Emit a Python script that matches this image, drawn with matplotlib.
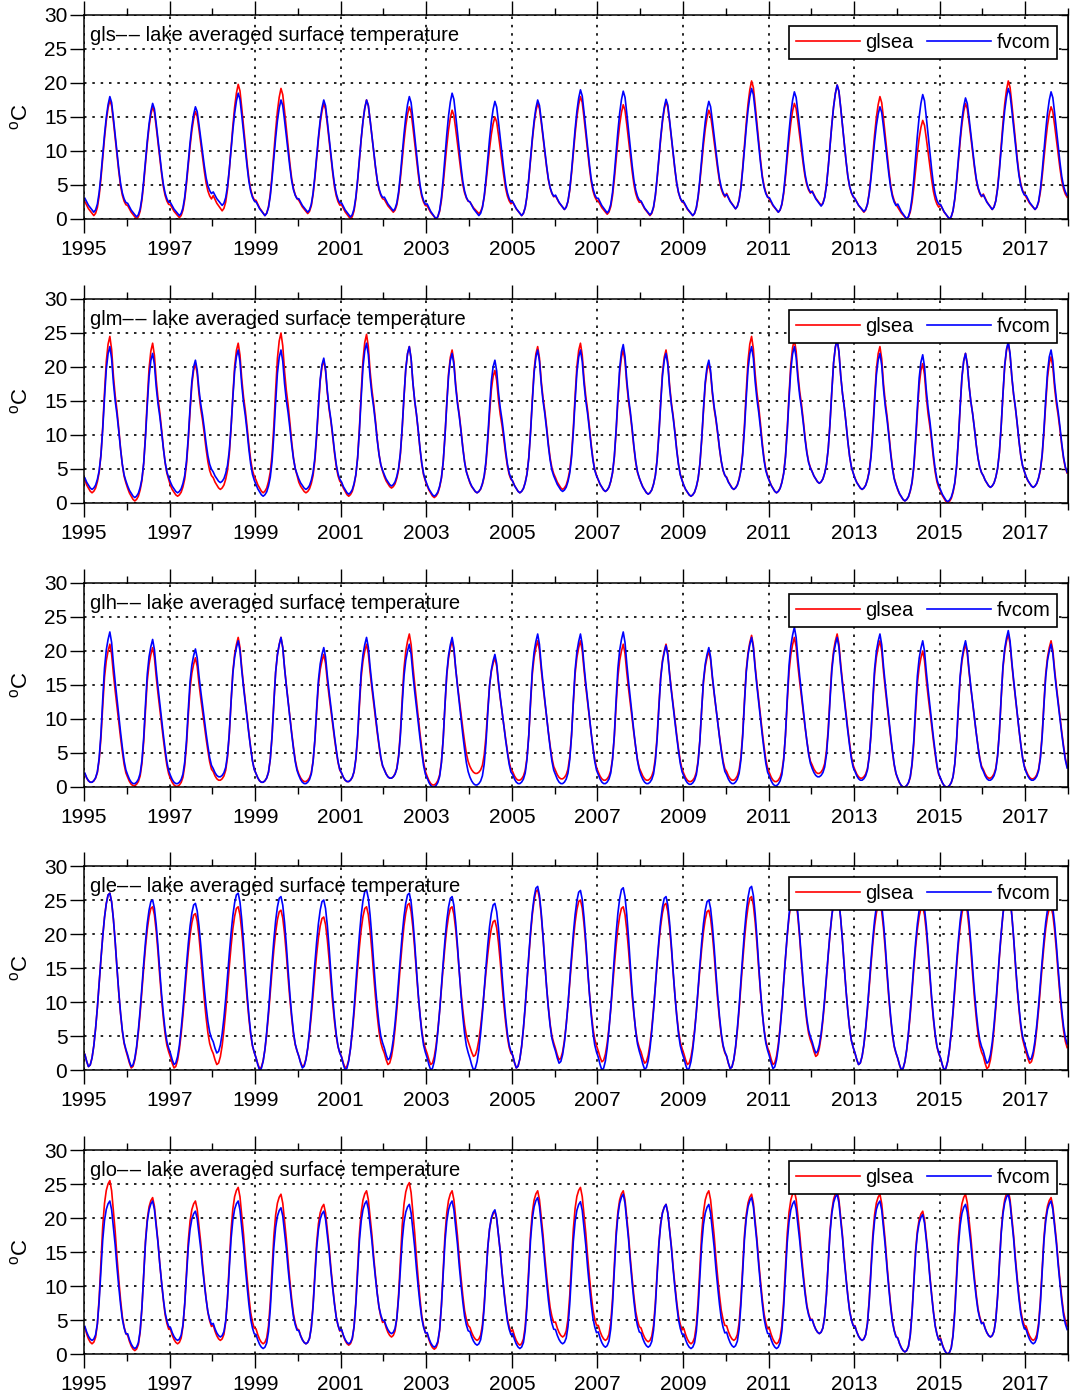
import numpy as np
import matplotlib.pyplot as plt
from matplotlib.ticker import MultipleLocator, FixedLocator

plt.rcParams['font.family'] = ['Liberation Sans', 'DejaVu Sans']
plt.rcParams['mathtext.fontset'] = 'custom'
plt.rcParams['mathtext.rm'] = 'Liberation Sans'
plt.rcParams['font.size'] = 15

years = list(range(1995, 2018))
lakes = ['gls', 'glm', 'glh', 'gle', 'glo']

# seasonal cycle, half-month steps: 0 = winter low, 1 = summer peak
gls_shape = [0.12, 0.09, 0.06, 0.04, 0.02, 0.0, 0.02, 0.07, 0.17, 0.32, 0.50, 0.67,
             0.82, 0.93, 1.0, 0.95, 0.82, 0.68, 0.54, 0.40, 0.28, 0.20, 0.15, 0.12]
glm_shape = [0.08, 0.05, 0.03, 0.01, 0.0, 0.01, 0.03, 0.07, 0.13, 0.24, 0.42, 0.64,
             0.84, 0.95, 1.0, 0.92, 0.76, 0.64, 0.55, 0.44, 0.32, 0.22, 0.15, 0.11]
glh_shape = [0.06, 0.03, 0.01, 0.0, 0.0, 0.01, 0.03, 0.07, 0.16, 0.32, 0.55, 0.76,
             0.88, 0.95, 1.0, 0.93, 0.79, 0.67, 0.56, 0.45, 0.34, 0.24, 0.15, 0.09]
gle_shape = [0.07, 0.03, 0.0, 0.01, 0.05, 0.12, 0.22, 0.34, 0.48, 0.62, 0.75, 0.86,
             0.94, 0.99, 1.0, 0.95, 0.85, 0.72, 0.57, 0.43, 0.31, 0.21, 0.14, 0.10]
glo_shape = [0.10, 0.06, 0.03, 0.01, 0.0, 0.01, 0.04, 0.12, 0.28, 0.50, 0.72, 0.86,
             0.94, 0.98, 1.0, 0.94, 0.82, 0.70, 0.55, 0.42, 0.30, 0.20, 0.14, 0.10]

# summer peak / winter low per year, 1995-2017
gls_peak_glsea = [17.5, 16.5, 15.8, 19.8, 19.2, 17.0, 17.5, 16.5, 16.0, 15.0, 17.0, 18.0,
                  16.8, 17.3, 16.0, 20.3, 17.0, 19.7, 18.0, 14.5, 17.0, 20.3, 16.5]
gls_peak_fvcom = [18.0, 17.0, 16.5, 18.5, 17.5, 17.5, 17.5, 18.0, 18.5, 17.3, 17.5, 19.0,
                  18.8, 17.6, 17.3, 19.2, 18.7, 19.7, 16.5, 18.3, 17.8, 19.2, 18.7]
gls_low_glsea = [0.5, 0.0, 0.2, 1.2, 0.5, 0.8, 0.0, 1.0, 0.0, 0.8, 0.5, 1.4,
                 0.7, 0.5, 0.5, 1.5, 1.0, 2.0, 1.0, 0.0, 0.0, 1.4, 1.4]
gls_low_fvcom = [1.0, 0.3, 0.5, 2.0, 0.5, 1.0, 0.3, 1.2, 0.0, 0.5, 0.5, 1.4,
                 0.9, 0.6, 0.5, 1.5, 1.0, 1.9, 1.1, 0.0, 0.0, 1.4, 1.4]

glm_peak_glsea = [24.5, 23.5, 20.5, 23.5, 25.0, 21.0, 24.8, 23.0, 22.5, 19.5, 23.0, 23.5,
                  22.5, 22.5, 20.5, 24.5, 24.0, 24.0, 23.0, 20.5, 22.0, 23.5, 21.5]
glm_peak_fvcom = [23.0, 22.0, 21.0, 22.5, 22.5, 21.3, 23.5, 23.0, 22.0, 21.0, 22.5, 22.5,
                  23.3, 22.0, 21.0, 23.0, 23.0, 24.0, 22.0, 21.8, 22.0, 23.7, 22.5]
glm_low_glsea = [1.5, 0.3, 1.0, 2.0, 1.5, 1.5, 1.0, 2.2, 0.8, 1.5, 1.5, 2.0,
                 1.7, 1.3, 1.0, 2.0, 1.5, 2.9, 2.0, 0.3, 0.0, 2.3, 2.3]
glm_low_fvcom = [2.0, 0.8, 1.5, 3.0, 1.0, 2.0, 1.3, 2.5, 1.0, 1.5, 1.5, 1.7,
                 1.7, 1.3, 1.0, 2.0, 1.5, 2.9, 2.0, 0.3, 0.2, 2.3, 2.3]

glh_peak_glsea = [21.0, 20.5, 19.0, 22.0, 22.0, 19.5, 21.0, 22.5, 21.5, 19.0, 21.5, 21.5,
                  21.0, 21.0, 20.0, 22.3, 22.0, 22.5, 21.5, 20.0, 21.0, 22.5, 21.5]
glh_peak_fvcom = [22.8, 21.7, 20.3, 21.5, 22.0, 20.5, 22.0, 21.0, 22.0, 19.5, 22.5, 22.5,
                  22.8, 20.8, 20.5, 22.0, 23.5, 22.0, 22.5, 21.5, 21.5, 23.0, 21.0]
glh_low_glsea = [0.7, 0.2, 0.1, 1.0, 0.7, 0.8, 0.8, 1.3, 0.3, 2.0, 1.0, 1.2,
                 1.0, 1.0, 0.8, 1.0, 0.8, 2.0, 1.3, 0.0, 0.0, 1.3, 1.2]
glh_low_fvcom = [0.7, 0.5, 0.5, 1.5, 0.7, 0.5, 0.8, 1.3, 0.0, 0.3, 0.5, 0.5,
                 0.5, 0.5, 0.4, 0.5, 0.2, 1.5, 1.0, 0.0, 0.0, 1.0, 1.0]

gle_peak_glsea = [26.0, 24.0, 23.0, 24.0, 23.5, 22.5, 24.0, 24.5, 24.0, 22.0, 26.5, 25.0,
                  24.0, 24.5, 23.5, 25.5, 26.0, 26.0, 24.5, 24.0, 24.5, 26.5, 24.0]
gle_peak_fvcom = [26.0, 25.0, 24.5, 26.0, 25.5, 25.0, 26.5, 26.0, 25.5, 24.5, 27.0, 26.4,
                  26.8, 25.5, 25.0, 27.0, 26.5, 26.0, 25.5, 25.0, 25.5, 26.5, 25.0]
gle_low_glsea = [0.5, 0.3, 0.3, 0.8, 0.2, 0.5, 0.3, 0.8, 0.8, 2.0, 0.3, 1.5,
                 1.2, 1.0, 0.8, 0.2, 0.8, 2.0, 0.8, 0.0, 0.0, 0.2, 1.0]
gle_low_fvcom = [0.5, 0.5, 0.8, 2.5, 0.0, 0.3, 0.0, 1.5, 0.0, 0.0, 0.3, 1.0,
                 0.0, 0.1, 0.0, 0.2, 0.2, 2.5, 0.8, 0.0, 0.0, 1.0, 1.5]

glo_peak_glsea = [25.5, 23.0, 22.5, 24.5, 23.5, 22.0, 24.0, 25.2, 24.0, 21.0, 24.0, 24.5,
                  24.0, 22.0, 24.0, 23.5, 24.0, 24.0, 23.5, 21.0, 23.5, 24.0, 23.0]
glo_peak_fvcom = [22.5, 22.5, 21.0, 22.5, 21.5, 21.0, 22.5, 22.0, 22.5, 21.2, 23.0, 22.4,
                  23.5, 22.0, 22.0, 23.0, 22.5, 23.5, 22.5, 20.5, 22.0, 23.5, 22.5]
glo_low_glsea = [1.5, 0.5, 1.5, 2.0, 1.5, 1.5, 1.3, 2.5, 0.7, 2.0, 1.3, 2.5,
                 2.0, 1.8, 1.5, 2.0, 1.5, 3.0, 2.0, 0.3, 0.0, 2.5, 2.0]
glo_low_fvcom = [2.0, 0.8, 2.0, 2.5, 0.8, 1.5, 1.5, 3.0, 1.0, 1.3, 0.8, 1.5,
                 1.0, 1.0, 0.8, 1.0, 0.8, 3.0, 2.0, 0.3, 0.0, 2.5, 1.5]

shapes = [gls_shape, glm_shape, glh_shape, gle_shape, glo_shape]
glsea = [(gls_low_glsea, gls_peak_glsea), (glm_low_glsea, glm_peak_glsea),
         (glh_low_glsea, glh_peak_glsea), (gle_low_glsea, gle_peak_glsea),
         (glo_low_glsea, glo_peak_glsea)]
fvcom = [(gls_low_fvcom, gls_peak_fvcom), (glm_low_fvcom, glm_peak_fvcom),
         (glh_low_fvcom, glh_peak_fvcom), (gle_low_fvcom, gle_peak_fvcom),
         (glo_low_fvcom, glo_peak_fvcom)]


def series(shape, low, peak):
    # after the summer peak the curve cools toward next winter's low
    top = int(np.argmax(shape))
    t, v = [], []
    for i, yr in enumerate(years):
        nxt = low[min(i + 1, len(years) - 1)]
        for k, s in enumerate(shape):
            base = low[i] if k <= top else nxt
            t.append(yr + (k + 0.5) / len(shape))
            v.append(base + s * (peak[i] - base))
    return np.array(t), np.array(v)


fig = plt.figure(figsize=(10.73, 13.95), dpi=100)
W, H = 1073.0, 1395.0
tops = [15, 299, 583, 866, 1150]

for n, lake in enumerate(lakes):
    ax = fig.add_axes([84 / W, 1 - (tops[n] + 204) / H, 984 / W, 204 / H])
    t, v = series(shapes[n], *glsea[n])
    ax.plot(t, v, color='r', lw=1.2, label='glsea')
    t, v = series(shapes[n], *fvcom[n])
    ax.plot(t, v, color='b', lw=1.2, label='fvcom')

    ax.set_xlim(1995, 2018)
    ax.set_ylim(0, 30)
    ax.xaxis.set_major_locator(FixedLocator(list(range(1995, 2018, 2))))
    ax.xaxis.set_minor_locator(FixedLocator(list(range(1996, 2019, 2))))
    ax.yaxis.set_major_locator(MultipleLocator(5))
    ax.grid(True, which='major', color='k', linestyle=(0, (1.5, 3.5)), linewidth=1.2)
    ax.tick_params(axis='x', which='major', direction='out', length=10, width=1,
                   top=True, bottom=True, pad=5)
    ax.tick_params(axis='x', which='minor', direction='out', length=5, width=1,
                   top=True, bottom=True)
    ax.tick_params(axis='y', which='major', direction='out', length=10, width=1, pad=2)
    sec = ax.secondary_yaxis('right')
    sec.yaxis.set_major_locator(MultipleLocator(5))
    sec.tick_params(direction='in', length=5, width=1, labelright=False)
    for sp in ax.spines.values():
        sp.set_linewidth(1.1)

    ax.set_ylabel(r'$^\mathrm{o}$C', fontsize=16)
    ax.yaxis.set_label_coords(-0.052, 0.5)
    ax.text(0.006, 0.9, lake + '\u2013\u200a\u2013 lake averaged surface temperature',
            transform=ax.transAxes, va='center', ha='left', fontsize=14.5)
    leg = ax.legend(loc='upper right', bbox_to_anchor=(0.989, 0.946), borderaxespad=0,
                    ncol=2, handlelength=3.2, handletextpad=0.25, columnspacing=0.65,
                    fancybox=False, framealpha=1, edgecolor='k', fontsize=14.5,
                    borderpad=0.35)
    leg.get_frame().set_linewidth(1.2)

fig.savefig('out.png', dpi=100)
